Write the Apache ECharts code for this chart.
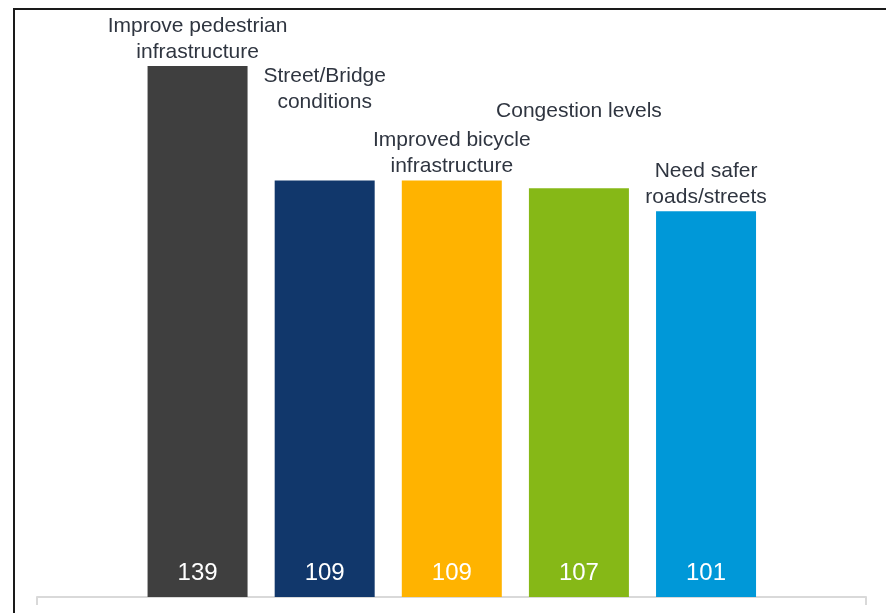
<!DOCTYPE html>
<html>
<head>
<meta charset="utf-8">
<style>
  html, body { margin: 0; padding: 0; background: #fff; }
  #chart { width: 886px; height: 613px; position: relative; }
  #frame { position: absolute; left: 13px; top: 8px; width: 900px; height: 700px;
           border-top: 2px solid #1a1a1a; border-left: 2px solid #1a1a1a; pointer-events: none; }
</style>
<script src="https://cdn.jsdelivr.net/npm/echarts@6/dist/echarts.min.js"></script>
</head>
<body>
<div id="chart"></div>
<div id="frame"></div>
<script>
const categories = [
  'Improve pedestrian\ninfrastructure',
  'Street/Bridge\nconditions',
  'Improved bicycle\ninfrastructure',
  'Congestion levels',
  'Need safer\nroads/streets'
];
const values = [139, 109, 109, 107, 101];
const barColors = ['#3f3f3f', '#11376b', '#ffb300', '#86b817', '#0098d8'];
const nameLabelOffsets = [[0, 0], [0, -64], [0, 0], [0, -63], [0, 0]];

const font = '"Liberation Sans", Arial, sans-serif';
const chart = echarts.init(document.getElementById('chart'), null, { renderer: 'canvas' });

chart.setOption({
  animation: false,
  backgroundColor: '#ffffff',
  grid: [
    { left: 134, right: 116.4, top: 66, bottom: 16 },
    { left: 37, right: 20, top: 66, bottom: 16 }
  ],
  xAxis: [
    { type: 'category', gridIndex: 0, data: categories, show: false },
    { type: 'category', gridIndex: 1, data: [''], boundaryGap: true,
      axisLine: { show: true, lineStyle: { color: '#d9d9d9', width: 2 } },
      axisTick: { show: true, length: 8, lineStyle: { color: '#d9d9d9', width: 2 } },
      axisLabel: { show: false } }
  ],
  yAxis: [
    { type: 'value', gridIndex: 0, min: 0, max: 139, show: false },
    { type: 'value', gridIndex: 1, min: 0, max: 1, show: false }
  ],
  series: [
    {
      type: 'bar',
      xAxisIndex: 0, yAxisIndex: 0,
      barWidth: 100,
      data: values.map((v, i) => ({ value: v, itemStyle: { color: barColors[i] } })),
      label: {
        show: true,
        position: 'insideBottom',
        distance: 12,
        color: '#ffffff',
        fontFamily: font,
        fontSize: 24
      },
      z: 2
    },
    {
      type: 'bar',
      xAxisIndex: 0, yAxisIndex: 0,
      barWidth: 100,
      barGap: '-100%',
      data: values.map((v, i) => ({ value: v, label: { offset: nameLabelOffsets[i] } })),
      itemStyle: { color: 'rgba(0,0,0,0)' },
      label: {
        show: true,
        position: 'top',
        distance: 1,
        formatter: (p) => categories[p.dataIndex],
        color: '#2f3540',
        fontFamily: font,
        fontSize: 21,
        lineHeight: 26,
        align: 'center'
      },
      z: 3
    }
  ]
});
</script>
</body>
</html>
